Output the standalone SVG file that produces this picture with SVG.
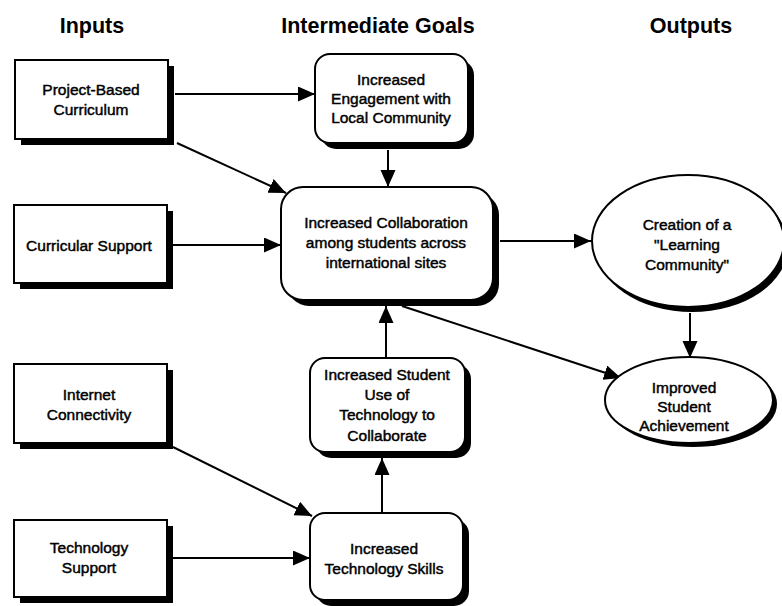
<svg xmlns="http://www.w3.org/2000/svg" width="782" height="606" viewBox="0 0 782 606">
<style>
.hdr{font-family:"Liberation Sans",Arial,sans-serif;font-size:21.5px;font-weight:bold;text-anchor:middle;fill:#000}
.t{font-family:"Liberation Sans",Arial,sans-serif;font-size:15.5px;text-anchor:middle;fill:#000;stroke:#000;stroke-width:0.45}
.box{fill:#fff;stroke:#000;stroke-width:2}
.sh{fill:#000}
.c{stroke:#000;stroke-width:2;fill:none}
</style>
<defs>
<marker id="ah" markerUnits="userSpaceOnUse" markerWidth="18" markerHeight="16" refX="17" refY="7.5" orient="auto">
<path d="M0,0 L17,7.5 L0,15 z" fill="#000"/>
</marker>
</defs>
<rect width="782" height="606" fill="#fff"/>
<text class="hdr" x="92" y="33">Inputs</text>
<text class="hdr" x="378" y="33">Intermediate Goals</text>
<text class="hdr" x="691" y="33">Outputs</text>

<g id="connectors">
<line class="c" x1="175" y1="94" x2="315" y2="94" marker-end="url(#ah)"/>
<line class="c" x1="177" y1="143" x2="286" y2="193" marker-end="url(#ah)"/>
<line class="c" x1="388" y1="150" x2="388" y2="187" marker-end="url(#ah)"/>
<line class="c" x1="173" y1="245" x2="281" y2="245" marker-end="url(#ah)"/>
<line class="c" x1="500" y1="241" x2="591" y2="241" marker-end="url(#ah)"/>
<line class="c" x1="402" y1="306" x2="621" y2="378" marker-end="url(#ah)"/>
<line class="c" x1="690" y1="313" x2="690" y2="358" marker-end="url(#ah)"/>
<line class="c" x1="386" y1="358" x2="386" y2="306" marker-end="url(#ah)"/>
<line class="c" x1="173" y1="447" x2="312" y2="516" marker-end="url(#ah)"/>
<line class="c" x1="164" y1="558" x2="310" y2="558" marker-end="url(#ah)"/>
<line class="c" x1="382" y1="513" x2="382" y2="458" marker-end="url(#ah)"/>
</g>

<g id="project-based">
<rect class="sh" x="21" y="66" width="153" height="79"/>
<rect class="box" x="15" y="60" width="153" height="79"/>
<text class="t" x="91" y="95">Project-Based</text>
<text class="t" x="91" y="115">Curriculum</text>
</g>
<g id="curricular-support">
<rect class="sh" x="20" y="211" width="153" height="78"/>
<rect class="box" x="14" y="205" width="153" height="78"/>
<text class="t" x="89" y="251">Curricular Support</text>
</g>
<g id="internet">
<rect class="sh" x="20" y="370" width="153" height="79"/>
<rect class="box" x="14" y="364" width="153" height="79"/>
<text class="t" x="89" y="400">Internet</text>
<text class="t" x="89" y="420">Connectivity</text>
</g>
<g id="tech-support">
<rect class="sh" x="20" y="526" width="153" height="77"/>
<rect class="box" x="14" y="520" width="153" height="77"/>
<text class="t" x="89" y="553">Technology</text>
<text class="t" x="89" y="573">Support</text>
</g>

<g id="engagement">
<rect class="sh" x="321" y="60" width="153" height="89" rx="15"/>
<rect class="box" x="315" y="54" width="153" height="89" rx="15"/>
<text class="t" x="391" y="85">Increased</text>
<text class="t" x="391" y="104">Engagement with</text>
<text class="t" x="391" y="123">Local Community</text>
</g>
<g id="collaboration">
<rect class="sh" x="287" y="193" width="212" height="113" rx="22"/>
<rect class="box" x="281" y="187" width="212" height="113" rx="22"/>
<text class="t" x="386" y="228">Increased Collaboration</text>
<text class="t" x="386" y="248">among students across</text>
<text class="t" x="386" y="268">international sites</text>
</g>
<g id="student-use">
<rect class="sh" x="316" y="364" width="155" height="94" rx="15"/>
<rect class="box" x="310" y="358" width="155" height="94" rx="15"/>
<text class="t" x="387" y="380">Increased Student</text>
<text class="t" x="387" y="400">Use of</text>
<text class="t" x="387" y="420">Technology to</text>
<text class="t" x="387" y="441">Collaborate</text>
</g>
<g id="tech-skills">
<rect class="sh" x="316" y="519" width="153" height="87" rx="15"/>
<rect class="box" x="310" y="513" width="153" height="87" rx="15"/>
<text class="t" x="384" y="554">Increased</text>
<text class="t" x="384" y="574">Technology Skills</text>
</g>

<g id="learning-community">
<ellipse class="sh" cx="692" cy="246" rx="96" ry="66"/>
<ellipse class="box" cx="688" cy="241" rx="96" ry="66"/>
<text class="t" x="687" y="230">Creation of a</text>
<text class="t" x="687" y="250">"Learning</text>
<text class="t" x="687" y="270">Community"</text>
</g>
<g id="achievement">
<ellipse class="sh" cx="693" cy="404" rx="84" ry="43"/>
<ellipse class="box" cx="689" cy="400" rx="84" ry="43"/>
<text class="t" x="684" y="393">Improved</text>
<text class="t" x="684" y="412">Student</text>
<text class="t" x="684" y="431">Achievement</text>
</g>
</svg>
